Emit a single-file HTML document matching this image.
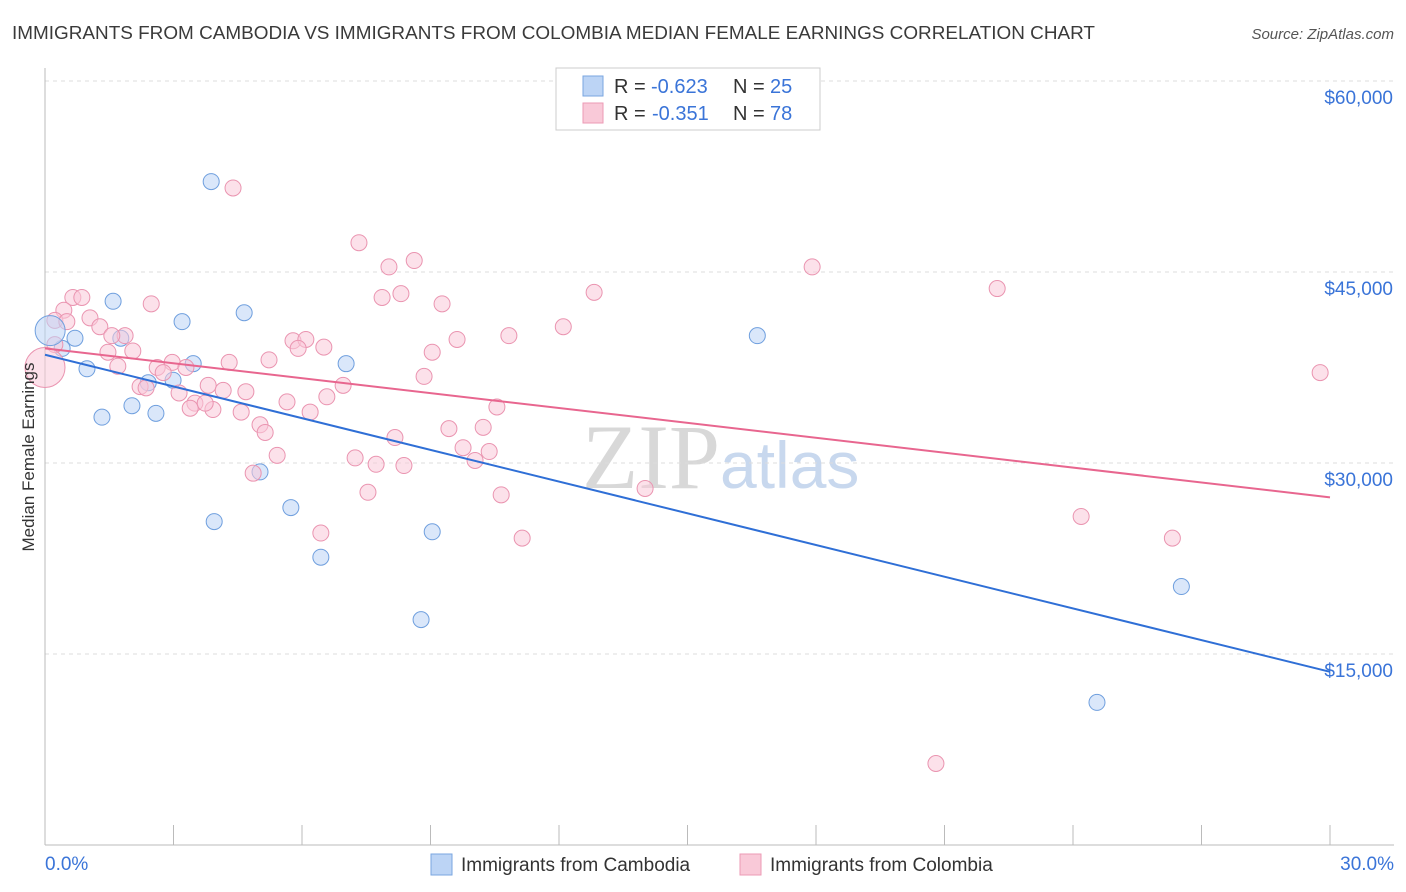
<!DOCTYPE html>
<html><head><meta charset="utf-8"><style>
body{margin:0;background:#fff;font-family:"Liberation Sans",sans-serif;}
svg{display:block}
</style></head><body>
<svg id="chart" width="1406" height="892">
<text x="12" y="39" font-size="18" fill="#3a3a3a" textLength="1083" lengthAdjust="spacingAndGlyphs">IMMIGRANTS FROM CAMBODIA VS IMMIGRANTS FROM COLOMBIA MEDIAN FEMALE EARNINGS CORRELATION CHART</text>
<text x="1394" y="39" font-size="15" fill="#555" font-style="italic" text-anchor="end">Source: ZipAtlas.com</text>
<text x="720" y="488" font-size="92" fill="#d8d8d8" text-anchor="end" font-family="Liberation Serif">ZIP</text>
<text x="720" y="488" font-size="66" fill="#c8d8ee">atlas</text>
<g id="grid"></g><g id="axes"></g><g id="pts"></g><g id="trend"></g>
<text x="34" y="457" font-size="17" fill="#333" text-anchor="middle" transform="rotate(-90 34 457)">Median Female Earnings</text>
<g>
<rect x="556" y="68" width="264" height="62" fill="#fff" stroke="#ccc"/>
<rect x="583" y="76" width="20" height="20" fill="#bcd4f5" stroke="#7aa6e0"/>
<text x="614" y="93" font-size="20" fill="#333">R =</text>
<text x="651" y="93" font-size="20" fill="#3a74d8">-0.623</text>
<text x="733" y="93" font-size="20" fill="#333">N =</text>
<text x="770" y="93" font-size="20" fill="#3a74d8">25</text>
<rect x="583" y="103" width="20" height="20" fill="#f9c9d8" stroke="#ec9ab5"/>
<text x="614" y="120" font-size="20" fill="#333">R =</text>
<text x="652" y="120" font-size="20" fill="#3a74d8">-0.351</text>
<text x="733" y="120" font-size="20" fill="#333">N =</text>
<text x="770" y="120" font-size="20" fill="#3a74d8">78</text>
</g>
<g><rect x="431" y="854" width="21" height="21" fill="#bcd4f5" stroke="#7aa6e0"/><text x="461" y="871" font-size="19" fill="#333">Immigrants from Cambodia</text></g>
<g><rect x="740" y="854" width="21" height="21" fill="#f9c9d8" stroke="#ec9ab5"/><text x="770" y="871" font-size="19" fill="#333">Immigrants from Colombia</text></g>
</svg>
<script>
const yTicks=[15000,30000,45000,60000];
const yTickLabels=["$15,000","$30,000","$45,000","$60,000"];
const xTickLabels=["0.0%","30.0%"];
const blueX=[3.88,1.59,4.65,3.20,0.70,1.77,0.40,0.98,2.41,2.99,3.46,7.03,2.03,1.33,2.59,5.02,3.95,5.74,6.44,9.04,8.78,16.63,26.53,24.56];
const blueY=[52.1,42.7,41.8,41.1,39.8,39.8,39.0,37.4,36.3,36.5,37.8,37.8,34.5,33.6,33.9,29.3,25.4,26.5,22.6,24.6,17.7,40.0,20.3,11.2];
const blueBig=[0.12,40.4];
const pinkX=[4.39,7.33,8.62,8.03,17.91,22.23,12.82,8.31,7.87,9.27,2.48,0.65,0.86,0.44,1.05,0.23,1.28,1.87,1.56,12.10,10.83,9.62,5.79,6.09,5.91,6.51,1.47,2.05,9.04,5.23,4.30,2.97,2.62,3.29,1.70,2.76,8.85,29.77,6.96,3.81,2.22,2.36,4.16,4.69,3.13,3.50,3.39,3.92,5.65,6.58,6.19,4.58,10.55,5.02,5.14,9.43,10.23,8.17,9.76,10.37,5.42,7.24,7.73,8.38,10.04,4.86,7.54,10.65,14.01,6.44,11.14,24.19,26.32,20.80,0.23,0.51,3.74];
const pinkY=[51.6,47.3,45.9,45.4,45.4,43.7,43.4,43.3,43.0,42.5,42.5,43.0,43.0,42.0,41.4,41.2,40.7,40.0,40.0,40.7,40.0,39.7,39.6,39.7,39.0,39.1,38.7,38.8,38.7,38.1,37.9,37.9,37.5,37.5,37.6,37.1,36.8,37.1,36.1,36.1,36.0,35.9,35.7,35.6,35.5,34.7,34.3,34.2,34.8,35.2,34.0,34.0,34.4,33.0,32.4,32.7,32.8,32.0,31.2,30.9,30.6,30.4,29.9,29.8,30.2,29.2,27.7,27.5,28.0,24.5,24.1,25.8,24.1,6.4,39.3,41.1,34.7];
const pinkBig=[0.0,37.5];
const blueTrend=[38.5,13.6];
const pinkTrend=[39.0,27.3];
const NS="http://www.w3.org/2000/svg";
const X=p=>45+p/30*1285, Y=k=>845-k*1000/15000*191;
function mk(tag,attrs,parent){const e=document.createElementNS(NS,tag);for(const k in attrs)e.setAttribute(k,attrs[k]);document.getElementById(parent).appendChild(e);return e;}
yTicks.forEach((t,i)=>{
 const g=mk('line',{x1:45,x2:1394,y1:Y(t/1000),y2:Y(t/1000),stroke:'#ddd','stroke-dasharray':'4,4'},'grid');
 
 
 const l=mk('text',{x:1393,y:Y(t/1000)+23,'font-size':19,fill:'#3a74d8','text-anchor':'end'},'axes');
 l.textContent=yTickLabels[i];
 
 
});
const ax=mk('line',{x1:45,x2:1394,y1:845,y2:845,stroke:'#bbb'},'axes');


const ay=mk('line',{x1:45,x2:45,y1:68,y2:845,stroke:'#bbb'},'axes');


for(let i=0;i<=10;i++){const t=mk('line',{x1:X(i*3),x2:X(i*3),y1:825,y2:845,stroke:'#bbb'},'axes');
 
 }
[[0,'start',45],[30,'end',1394]].forEach((d,i)=>{const t=mk('text',{x:d[2],y:870,'font-size':19,fill:'#3a74d8','text-anchor':d[1]},'axes');t.textContent=xTickLabels[i];
 
 });
function dots(xs,ys,fill,stroke,name){xs.forEach((x,i)=>{const c=mk('circle',{cx:X(x),cy:Y(ys[i]),r:8,fill:fill,'fill-opacity':0.55,stroke:stroke,'stroke-width':1},'pts');
 
 });}
dots(blueX,blueY,'#bcd4f5','#6f9fde','cambodia-point');
dots(pinkX,pinkY,'#f9c9d8','#ea94b0','colombia-point');
const bb=mk('circle',{cx:X(blueBig[0]),cy:Y(blueBig[1]),r:15,fill:'#bcd4f5','fill-opacity':0.55,stroke:'#6f9fde'},'pts');


const pb=mk('circle',{cx:X(pinkBig[0]),cy:Y(pinkBig[1]),r:20,fill:'#f9c9d8','fill-opacity':0.55,stroke:'#ea94b0'},'pts');


const bt=mk('line',{x1:X(0),y1:Y(blueTrend[0]),x2:X(30),y2:Y(blueTrend[1]),stroke:'#2f6fd6','stroke-width':2},'trend');


const pt=mk('line',{x1:X(0),y1:Y(pinkTrend[0]),x2:X(30),y2:Y(pinkTrend[1]),stroke:'#e8668f','stroke-width':2},'trend');


</script>
</body></html>
